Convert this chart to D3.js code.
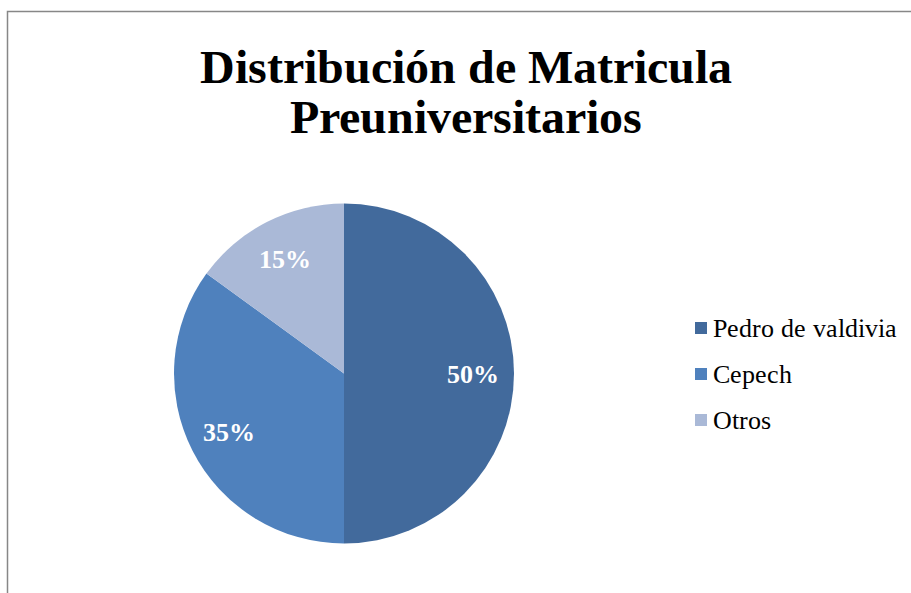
<!DOCTYPE html>
<html>
<head>
<meta charset="utf-8">
<script src="https://cdn.jsdelivr.net/npm/d3@7"></script>
<style>
  @font-face { font-family: 'ChartSerif'; font-weight: 400; src: local('Liberation Serif'), local('LiberationSerif'), local('Times New Roman'); }
  @font-face { font-family: 'ChartSerif'; font-weight: 700; src: local('Liberation Serif Bold'), local('LiberationSerif-Bold'), local('Times New Roman Bold'); }
</style>
</head>
<body style="margin:0">
<div id="chart"></div>
<script>
// Chart data
const titleLines = ['Distribución de Matricula', 'Preuniversitarios'];
const categories = ['Pedro de valdivia', 'Cepech', 'Otros'];
const values = [50, 35, 15];
const colors = ['#426A9C', '#4F81BD', '#AAB9D7'];

const width = 911;
const height = 593;
const fontFamily = "ChartSerif, 'Times New Roman', 'Liberation Serif', serif";

const svg = d3.select('#chart')
  .append('svg')
  .attr('width', width)
  .attr('height', height)
  .style('display', 'block');

// Chart frame (only top and left edges fall inside the picture)
svg.append('rect')
  .attr('x', 7.5)
  .attr('y', 11.5)
  .attr('width', 920)
  .attr('height', 620)
  .attr('fill', '#fff')
  .attr('stroke', '#878787')
  .attr('stroke-width', 1.5);

// Title
svg.selectAll('text.title')
  .data(titleLines)
  .enter()
  .append('text')
  .attr('class', 'title')
  .attr('x', 466)
  .attr('y', (d, i) => 83 + i * 50)
  .attr('text-anchor', 'middle')
  .attr('font-family', fontFamily)
  .attr('font-weight', 700)
  .attr('font-size', 48)
  .attr('fill', '#000')
  .text(d => d);

// Pie
const cx = 344, cy = 373.5, radius = 170;
const pie = d3.pie().sort(null).value(d => d)(values);
const arc = d3.arc().innerRadius(0).outerRadius(radius);
const labelArc = d3.arc().innerRadius(129).outerRadius(129);
const total = d3.sum(values);

const g = svg.append('g').attr('transform', `translate(${cx},${cy})`);

g.selectAll('path')
  .data(pie)
  .enter()
  .append('path')
  .attr('d', arc)
  .attr('fill', (d, i) => colors[i]);

g.selectAll('text')
  .data(pie)
  .enter()
  .append('text')
  .attr('transform', d => `translate(${labelArc.centroid(d)})`)
  .attr('text-anchor', 'middle')
  .attr('dy', '0.35em')
  .attr('font-family', fontFamily)
  .attr('font-weight', 700)
  .attr('font-size', 26)
  .attr('fill', '#fff')
  .text(d => `${Math.round(d.data / total * 100)}%`);

// Legend
const legendY = d3.scalePoint().domain(categories).range([328, 420]);
const legend = svg.append('g')
  .selectAll('g')
  .data(categories)
  .enter()
  .append('g')
  .attr('transform', d => `translate(695,${legendY(d)})`);

legend.append('rect')
  .attr('x', 0)
  .attr('y', -6)
  .attr('width', 12)
  .attr('height', 12)
  .attr('fill', (d, i) => colors[i]);

legend.append('text')
  .attr('x', 18)
  .attr('dy', '0.35em')
  .attr('font-family', fontFamily)
  .attr('font-size', 26)
  .attr('fill', '#000')
  .text(d => d);
</script>
</body>
</html>
